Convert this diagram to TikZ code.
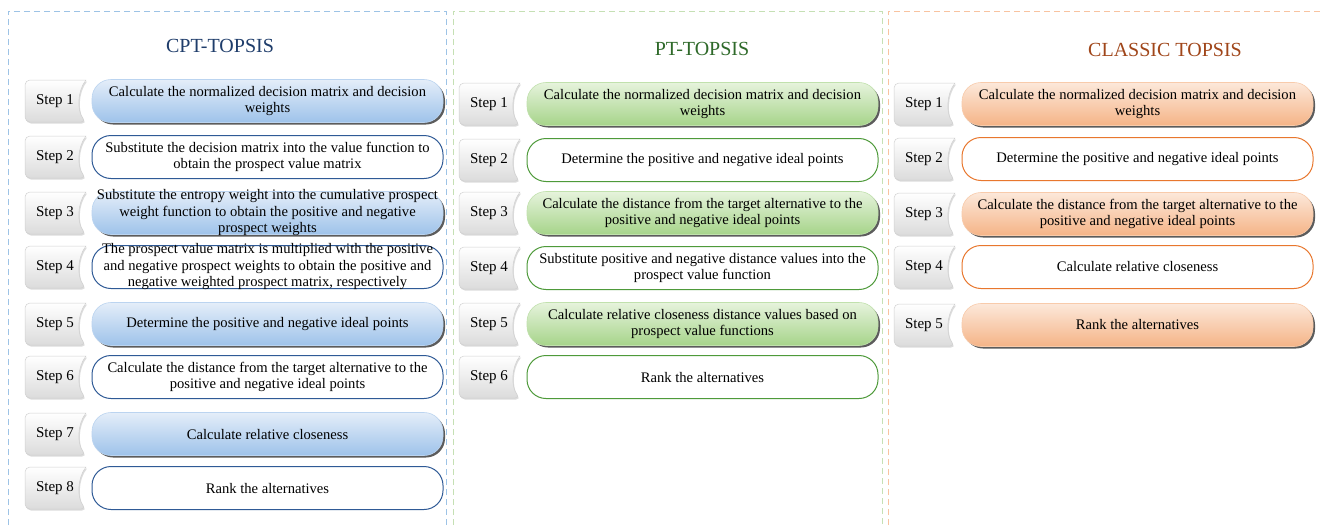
\documentclass[tikz,border=0pt]{standalone}
\usepackage{fontspec}
\setmainfont{Liberation Serif}
\usetikzlibrary{shadows}
\definecolor{cptTop}{HTML}{E4EEF9}
\definecolor{cptBot}{HTML}{9EC2EA}
\definecolor{cptLine}{HTML}{2F5A96}
\definecolor{cptDash}{HTML}{9DC3E6}
\definecolor{cptTitle}{HTML}{1F3D6B}
\definecolor{ptTop}{HTML}{E6F3DC}
\definecolor{ptBot}{HTML}{A6D48A}
\definecolor{ptLine}{HTML}{4E9A3A}
\definecolor{ptDash}{HTML}{C5E0B4}
\definecolor{ptTitle}{HTML}{2F6A2A}
\definecolor{clTop}{HTML}{FCE8DA}
\definecolor{clBot}{HTML}{F5B487}
\definecolor{clLine}{HTML}{E8772E}
\definecolor{clDash}{HTML}{F8C3A0}
\definecolor{clTitle}{HTML}{A0461A}
\tikzset{
  panel/.style={dashed, line width=0.9pt, dash pattern=on 6pt off 4pt},
  titletxt/.style={font=\fontsize{20}{23}\selectfont},
  tabshade/.style={top color=white, middle color=white, bottom color=black!14, draw=black!18, line width=0.5pt,
     drop shadow={shadow xshift=1pt, shadow yshift=-1.5pt, fill=black!30, opacity=0.45}},
  steplbl/.style={font=\fontsize{15}{17}\selectfont, inner sep=0pt},
  boxtxt/.style={font=\fontsize{14.6}{16.5}\selectfont, align=center, inner sep=0pt},
  basebox/.style={rectangle, rounded corners=19pt, minimum width=351pt, minimum height=43pt, inner sep=0pt},
  cptfill/.style={basebox, top color=cptTop, bottom color=cptBot, draw=cptBot!70!white, line width=0.6pt,
     drop shadow={shadow xshift=2pt, shadow yshift=-2pt, fill=black!75, opacity=0.85}},
  cptline/.style={basebox, fill=white, draw=cptLine, line width=1pt},
  ptfill/.style={basebox, top color=ptTop, bottom color=ptBot, draw=ptBot!70!white, line width=0.6pt,
     drop shadow={shadow xshift=2pt, shadow yshift=-2pt, fill=black!75, opacity=0.85}},
  ptline/.style={basebox, fill=white, draw=ptLine, line width=1pt},
  clfill/.style={basebox, top color=clTop, bottom color=clBot, draw=clBot!70!white, line width=0.6pt,
     drop shadow={shadow xshift=2pt, shadow yshift=-2pt, fill=black!75, opacity=0.85}},
  clline/.style={basebox, fill=white, draw=clLine, line width=1pt},
}
% #1 name, #2 tab x0, #3 box center x, #4 y, #5 step number, #6 box style, #7 text
\newcommand{\steprow}[7]{%
  \path[tabshade] (#2+61,#4-21) [rounded corners=5pt] -- (#2,#4-21) -- (#2,#4+21) -- (#2+61,#4+21) [sharp corners] .. controls (#2+52,#4+10) and (#2+52,#4-10) .. (#2+61,#4-21) -- cycle;
  \node[steplbl] (#1s) at (#2+30,#4) {Step #5};
  \node[#6] (#1) at (#3,#4) {};
  \node[boxtxt] (#1t) at (#1.center) {#7};
}
\begin{document}
\begin{tikzpicture}[x=1pt,y=-1pt]
\useasboundingbox (0,0) rectangle (1322,525);
\fill[white] (0,0) rectangle (1322,525);
% panels
\draw[panel, draw=cptDash] (8,525) -- (8,11) -- (446,11) -- (446,525);
\draw[panel, draw=ptDash] (453,525) -- (453,11) -- (882,11) -- (882,525);
\draw[panel, draw=clDash] (888,525) -- (888,11) -- (1330,11);
% titles
\node[titletxt, text=cptTitle] (t1) at (220,46) {CPT-TOPSIS};
\node[titletxt, text=ptTitle] (t2) at (702,49) {PT-TOPSIS};
\node[titletxt, text=clTitle] (t3) at (1165,50) {CLASSIC TOPSIS};
% CPT column
\steprow{c1}{25}{267.5}{101}{1}{cptfill}{Calculate the normalized decision matrix and decision\\weights}
\steprow{c2}{25}{267.5}{157}{2}{cptline}{Substitute the decision matrix into the value function to\\obtain the prospect value matrix}
\steprow{c3}{25}{267.5}{213}{3}{cptfill}{Substitute the entropy weight into the cumulative prospect\\weight function to obtain the positive and negative\\prospect weights}
\steprow{c4}{25}{267.5}{267}{4}{cptline}{The prospect value matrix is multiplied with the positive\\and negative prospect weights to obtain the positive and\\negative weighted prospect matrix, respectively}
\steprow{c5}{25}{267.5}{324}{5}{cptfill}{Determine the positive and negative ideal points}
\steprow{c6}{25}{267.5}{377}{6}{cptline}{Calculate the distance from the target alternative to the\\positive and negative ideal points}
\steprow{c7}{25}{267.5}{434}{7}{cptfill}{Calculate relative closeness}
\steprow{c8}{25}{267.5}{488}{8}{cptline}{Rank the alternatives}
% PT column
\steprow{p1}{459}{702.5}{104}{1}{ptfill}{Calculate the normalized decision matrix and decision\\weights}
\steprow{p2}{459}{702.5}{160}{2}{ptline}{Determine the positive and negative ideal points}
\steprow{p3}{459}{702.5}{213}{3}{ptfill}{Calculate the distance from the target alternative to the\\positive and negative ideal points}
\steprow{p4}{459}{702.5}{268}{4}{ptline}{Substitute positive and negative distance values into the\\prospect value function}
\steprow{p5}{459}{702.5}{324}{5}{ptfill}{Calculate relative closeness distance values based on\\prospect value functions}
\steprow{p6}{459}{702.5}{377}{6}{ptline}{Rank the alternatives}
% Classic column
\steprow{k1}{894}{1137.5}{104}{1}{clfill}{Calculate the normalized decision matrix and decision\\weights}
\steprow{k2}{894}{1137.5}{159}{2}{clline}{Determine the positive and negative ideal points}
\steprow{k3}{894}{1137.5}{214}{3}{clfill}{Calculate the distance from the target alternative to the\\positive and negative ideal points}
\steprow{k4}{894}{1137.5}{267}{4}{clline}{Calculate relative closeness}
\steprow{k5}{894}{1137.5}{325}{5}{clfill}{Rank the alternatives}
\end{tikzpicture}
\end{document}
